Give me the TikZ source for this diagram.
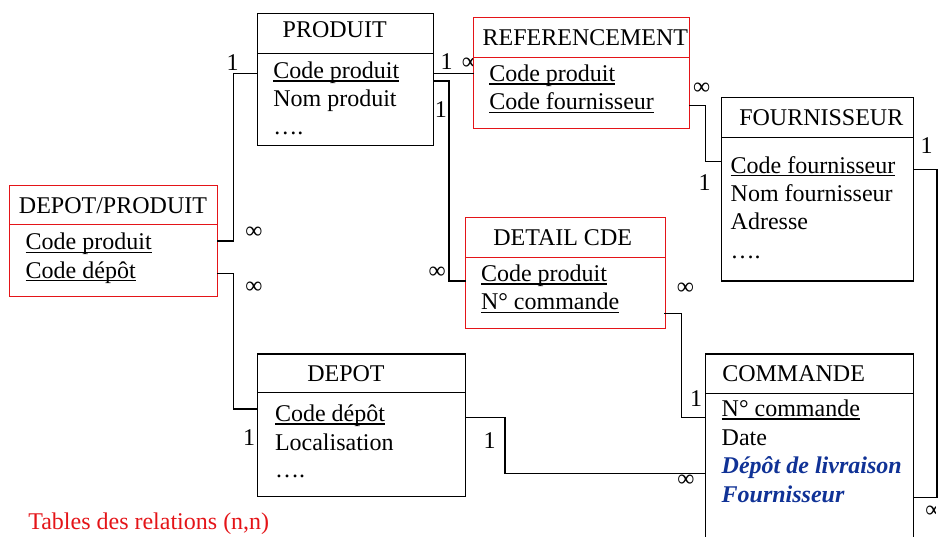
\documentclass[tikz,border=0pt]{standalone}
\usepackage{fontspec}
\setmainfont{Liberation Serif}
\newcommand\ulx[1]{\setbox0\hbox{#1}\rlap{\rule[-3pt]{\wd0}{1.2pt}}\box0}
\definecolor{tred}{RGB}{228,20,24}
\definecolor{tblue}{RGB}{16,50,150}
\begin{document}
\begin{tikzpicture}[x=1pt,y=-1pt,
  font=\fontsize{24}{28}\selectfont,
  tbl/.style={draw=black, line width=1.2pt, fill=white, anchor=north west, inner sep=0pt, outer sep=0pt},
  rtbl/.style={tbl, draw=tred, line width=1pt},
  txt/.style={anchor=base west, inner sep=0pt, outer sep=0pt},
  lbl/.style={anchor=center, inner sep=0pt, outer sep=0pt},
  conn/.style={line width=1.2pt, line cap=rect},
  sepl/.style={line width=1.2pt},
  rsepl/.style={line width=1pt, tred},
  hl/.style={text=tblue, font=\fontsize{24}{28}\selectfont\bfseries\itshape}]
\useasboundingbox (0,0) rectangle (938,537);
\clip (0,0) rectangle (938,537);

% cardinality labels (drawn before boxes so boxes can hide parts)
\node[lbl] (c1) at (232.5,62.5) {1};
\node[lbl] (c2) at (446.7,61.5) {1};
\node[lbl] (c3) at (470.5,64) {∞};
\node[lbl] (c4) at (440.8,110) {1};
\node[lbl] (c5) at (701.7,88.3) {∞};
\node[lbl] (c6) at (704.5,182.5) {1};
\node[lbl] (c7) at (926.7,146) {1};
\begin{scope}
  \clip (900,500) rectangle (935.3,525);
  \node[lbl] (c8) at (933.9,511.7) {∞};
\end{scope}
\node[lbl] (c9) at (254,232.5) {∞};
\node[lbl] (c10) at (254,287.5) {∞};
\node[lbl] (c11) at (437.2,272.5) {∞};
\node[lbl] (c12) at (685.3,288.7) {∞};
\node[lbl] (c13) at (696.2,398.3) {1};
\node[lbl] (c14) at (685.8,480.8) {∞};
\node[lbl] (c15) at (249,437.5) {1};
\node[lbl] (c16) at (489.5,440.8) {1};

% tables
\node[tbl, minimum width=176pt, minimum height=132pt] (produit) at (257.3,13.3) {};
\node[rtbl, minimum width=216pt, minimum height=111.7pt] (ref) at (473.3,17.3) {};
\node[tbl, minimum width=191.6pt, minimum height=183.7pt] (four) at (721.7,97.3) {};
\node[rtbl, minimum width=208.3pt, minimum height=111.3pt] (dp) at (9,185.7) {};
\node[rtbl, minimum width=199.3pt, minimum height=111.7pt] (detail) at (465.7,217.3) {};
\node[tbl, minimum width=207.6pt, minimum height=230pt] (cmd) at (705.7,354) {};
\node[tbl, minimum width=208.4pt, minimum height=142.7pt] (depot) at (257.3,354) {};

% header separators
\draw[sepl] (produit.west |- 0,53.3) -- (produit.east |- 0,53.3);
\draw[rsepl] (ref.west |- 0,57.3) -- (ref.east |- 0,57.3);
\draw[sepl] (four.west |- 0,137.3) -- (four.east |- 0,137.3);
\draw[rsepl] (dp.west |- 0,225) -- (dp.east |- 0,225);
\draw[rsepl] (detail.west |- 0,257.3) -- (detail.east |- 0,257.3);
\draw[sepl] (cmd.west |- 0,393.3) -- (cmd.east |- 0,393.3);
\draw[sepl] (depot.west |- 0,392.7) -- (depot.east |- 0,392.7);

% connectors
\draw[conn] (produit.west |- 0,73.3) -- (233.3,73.3) |- (dp.east |- 0,241);
\draw[conn] (dp.east |- 0,273.3) -- (233.3,273.3) |- (depot.west |- 0,409);
\draw[conn] (produit.east |- 0,73.3) -- (ref.west |- 0,73.3);
\draw[conn] (produit.east |- 0,81) -- (449,81) |- (detail.west |- 0,281);
\draw[conn] (ref.east |- 0,105.3) -- (705.5,105.3) |- (four.west |- 0,161.7);
\draw[conn] (four.east |- 0,169.3) -- (937,169.3) |- (cmd.east |- 0,497.3);
\draw[conn] (detail.east |- 0,313.3) -- (681.7,313.3) |- (cmd.west |- 0,417.3);
\draw[conn] (depot.east |- 0,417.7) -- (505,417.7) |- (cmd.west |- 0,473.3);

% PRODUIT
\node[txt] (t1) at (282.7,37.3) {PRODUIT};
\node[txt] (t2) at (273.3,78.7) {\ulx{Code produit}};
\node[txt] (t3) at (273.3,106.5) {Nom produit};
\node[txt] (t4) at (273.3,135) {….};
% REFERENCEMENT
\node[txt] (t5) at (482.7,45.7) {REFERENCEMENT};
\node[txt] (t6) at (489.3,81.7) {\ulx{Code produit}};
\node[txt] (t7) at (489.3,110) {\ulx{Code fournisseur}};
% FOURNISSEUR
\node[txt] (t8) at (739.3,125.7) {FOURNISSEUR};
\node[txt] (t9) at (730.7,173.3) {\ulx{Code fournisseur}};
\node[txt] (t10) at (730.7,201.7) {Nom fournisseur};
\node[txt] (t11) at (730.7,230) {Adresse};
\node[txt] (t12) at (730.7,258.3) {….};
% DEPOT/PRODUIT
\node[txt] (t13) at (19,213.3) {DEPOT/PRODUIT};
\node[txt] (t14) at (25.7,250) {\ulx{Code produit}};
\node[txt] (t15) at (25.7,278.3) {\ulx{Code dépôt}};
% DETAIL CDE
\node[txt] (t16) at (493.3,245.7) {DETAIL CDE};
\node[txt] (t17) at (481,281.7) {\ulx{Code produit}};
\node[txt] (t18) at (481,310) {\ulx{N° commande}};
% COMMANDE
\node[txt] (t19) at (722.3,381.7) {COMMANDE};
\node[txt] (t20) at (721.7,416.7) {\ulx{N° commande}};
\node[txt] (t21) at (721.7,446) {Date};
\node[txt, hl] (t22) at (721.7,473.3) {Dépôt de livraison};
\node[txt, hl] (t23) at (721.7,502.3) {Fournisseur};
% DEPOT
\node[txt] (t24) at (307.3,381.7) {DEPOT};
\node[txt] (t25) at (275,421.7) {\ulx{Code dépôt}};
\node[txt] (t26) at (275,450) {Localisation};
\node[txt] (t27) at (275,478) {….};
% caption
\node[txt, text=tred] (cap) at (28.3,529.3) {Tables des relations (n,n)};
\end{tikzpicture}
\end{document}
